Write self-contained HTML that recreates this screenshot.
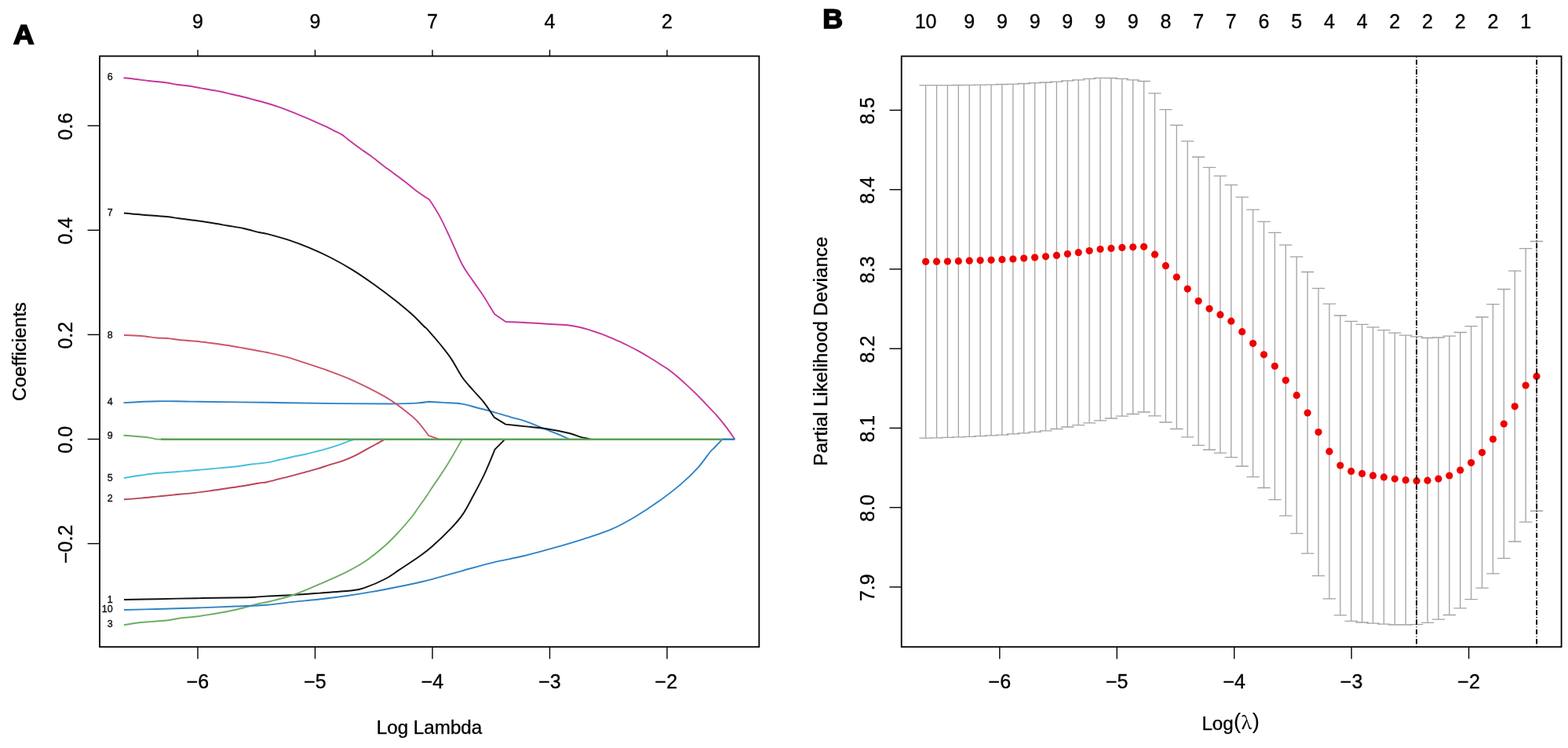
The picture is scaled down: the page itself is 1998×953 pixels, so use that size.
<!DOCTYPE html>
<html><head><meta charset="utf-8"><title>LASSO regression plots</title>
<style>
html,body{margin:0;padding:0;background:#fff;}
svg{display:block;}
text{font-family:'Liberation Sans', Arial, Helvetica, sans-serif;fill:#000;stroke:#000;stroke-width:0.35px;}
</style></head><body>
<svg width="1998" height="953" viewBox="0 0 1998 953">
<rect x="0" y="0" width="1998" height="953" fill="#fff"/>
<g id="panelA">
<path d="M158,764 C158.00,764.00 184.65,763.50 200,763.2 C215.35,762.90 234.25,762.48 250.1,762.2 C265.95,761.92 282.58,761.75 295.1,761.5 C307.62,761.25 317.72,761.02 325.2,760.7 C332.68,760.38 331.93,760.05 340,759.6 C348.07,759.15 362.40,758.67 373.6,758 C384.80,757.33 394.60,756.55 407.2,755.6 C419.80,754.65 439.42,753.50 449.2,752.3 C458.98,751.10 458.92,750.87 465.9,748.4 C472.88,745.93 484.10,741.13 491.1,737.5 C498.10,733.87 500.90,731.22 507.9,726.6 C514.90,721.98 526.08,714.77 533.1,709.8 C540.12,704.83 542.98,703.00 550,696.8 C557.02,690.60 568.57,679.55 575.2,672.6 C581.83,665.65 585.27,661.73 589.8,655.1 C594.33,648.47 597.87,641.22 602.4,632.8 C606.93,624.38 612.30,614.63 617,604.6 C621.70,594.57 630.60,572.60 630.6,572.6 C630.60,572.60 643.50,559.60 643.5,559.6" fill="none" stroke="#111111" stroke-width="1.9" stroke-linejoin="round" stroke-linecap="butt"/>
<path d="M158,636.3 C158.00,636.30 173.00,635.22 180,634.6 C187.00,633.98 193.32,633.27 200,632.6 C206.68,631.93 211.75,631.43 220.1,630.6 C228.45,629.77 241.77,628.53 250.1,627.6 C258.43,626.67 263.43,625.93 270.1,625 C276.77,624.07 283.42,623.00 290.1,622 C296.78,621.00 303.52,620.08 310.2,619 C316.88,617.92 325.23,616.30 330.2,615.5 C335.17,614.70 335.70,615.08 340,614.2 C344.30,613.32 350.67,611.53 356,610.2 C361.33,608.87 366.67,607.60 372,606.2 C377.33,604.80 382.67,603.27 388,601.8 C393.33,600.33 398.65,599.00 404,597.4 C409.35,595.80 414.75,593.87 420.1,592.2 C425.45,590.53 430.77,589.33 436.1,587.4 C441.43,585.47 446.77,583.20 452.1,580.6 C457.43,578.00 463.43,574.33 468.1,571.8 C472.77,569.27 476.37,567.43 480.1,565.4 C483.83,563.37 490.50,559.60 490.5,559.6" fill="none" stroke="#B8435A" stroke-width="1.9" stroke-linejoin="round" stroke-linecap="butt"/>
<path d="M158,796.3 C158.00,796.30 170.98,793.97 180,793 C189.02,792.03 203.75,791.42 212.1,790.5 C220.45,789.58 223.77,788.33 230.1,787.5 C236.43,786.67 243.43,786.33 250.1,785.5 C256.77,784.67 263.43,783.58 270.1,782.5 C276.77,781.42 283.42,780.33 290.1,779 C296.78,777.67 303.52,776.17 310.2,774.5 C316.88,772.83 324.40,770.42 330.2,769 C336.00,767.58 337.77,767.83 345,766 C352.23,764.17 363.23,761.63 373.6,758 C383.97,754.37 396.00,749.02 407.2,744.2 C418.40,739.38 431.02,734.00 440.8,729.1 C450.58,724.20 457.52,720.53 465.9,714.8 C474.28,709.07 484.10,700.85 491.1,694.7 C498.10,688.55 502.30,683.93 507.9,677.9 C513.50,671.87 520.50,663.68 524.7,658.5 C528.90,653.32 529.73,651.55 533.1,646.8 C536.47,642.05 542.08,634.12 544.9,630 C547.72,625.88 545.92,628.27 550,622.1 C554.08,615.93 562.93,603.42 569.4,593 C575.87,582.58 588.80,559.60 588.8,559.6" fill="none" stroke="#6DAE62" stroke-width="1.9" stroke-linejoin="round" stroke-linecap="butt"/>
<path d="M157.5,513.1 C157.50,513.10 185.90,511.45 200.4,511.2 C214.90,510.95 221.23,511.33 244.5,511.6 C267.77,511.87 308.78,512.38 340,512.8 C371.22,513.22 405.57,513.82 431.8,514.1 C458.03,514.38 481.00,514.58 497.4,514.5 C513.80,514.42 522.02,514.05 530.2,513.6 C538.38,513.15 546.50,511.80 546.5,511.8 C546.50,511.80 557.53,512.43 564.6,512.9 C571.67,513.37 581.68,513.50 588.9,514.6 C596.12,515.70 601.85,517.97 607.9,519.5 C613.95,521.03 617.98,521.78 625.2,523.8 C632.42,525.82 643.73,529.43 651.2,531.6 C658.67,533.77 662.53,534.20 670,536.8 C677.47,539.40 687.33,543.67 696,547.2 C704.67,550.73 717.33,555.93 722,558 C726.67,560.07 724.00,559.60 724,559.6" fill="none" stroke="#2F82C4" stroke-width="1.9" stroke-linejoin="round" stroke-linecap="butt"/>
<path d="M158,609 C158.00,609.00 173.50,606.45 180,605.5 C186.50,604.55 190.32,603.97 197,603.3 C203.68,602.63 211.25,602.22 220.1,601.5 C228.95,600.78 241.77,599.72 250.1,599 C258.43,598.28 261.75,597.95 270.1,597.2 C278.45,596.45 291.85,595.45 300.2,594.5 C308.55,593.55 313.57,592.35 320.2,591.5 C326.83,590.65 334.03,590.35 340,589.4 C345.97,588.45 350.67,587.00 356,585.8 C361.33,584.60 366.67,583.33 372,582.2 C377.33,581.07 382.67,580.20 388,579 C393.33,577.80 398.65,576.40 404,575 C409.35,573.60 414.75,572.20 420.1,570.6 C425.45,569.00 432.10,566.80 436.1,565.4 C440.10,564.00 441.43,563.17 444.1,562.2 C446.77,561.23 452.10,559.60 452.1,559.6" fill="none" stroke="#45BEDD" stroke-width="1.9" stroke-linejoin="round" stroke-linecap="butt"/>
<path d="M157.5,99.3 C157.50,99.30 164.58,99.88 170,100.5 C175.42,101.12 182.82,102.17 190,103 C197.18,103.83 207.25,104.70 213.1,105.5 C218.95,106.30 220.60,107.13 225.1,107.8 C229.60,108.47 234.27,108.63 240.1,109.5 C245.93,110.37 253.43,111.83 260.1,113 C266.77,114.17 274.27,115.33 280.1,116.5 C285.93,117.67 290.08,118.83 295.1,120 C300.12,121.17 305.18,122.25 310.2,123.5 C315.22,124.75 320.20,126.17 325.2,127.5 C330.20,128.83 335.28,130.05 340.2,131.5 C345.12,132.95 349.83,134.50 354.7,136.2 C359.57,137.90 364.50,139.80 369.4,141.7 C374.30,143.60 379.20,145.58 384.1,147.6 C389.00,149.62 393.90,151.67 398.8,153.8 C403.70,155.93 409.10,158.32 413.5,160.4 C417.90,162.48 421.53,164.47 425.2,166.3 C428.87,168.13 432.55,169.57 435.5,171.4 C438.45,173.23 439.22,174.48 442.9,177.3 C446.58,180.12 452.70,184.75 457.6,188.3 C462.50,191.85 467.40,195.00 472.3,198.6 C477.20,202.20 482.12,206.22 487,209.9 C491.88,213.58 496.72,217.07 501.6,220.7 C506.48,224.33 511.40,227.92 516.3,231.7 C521.20,235.48 525.88,239.63 531,243.4 C536.12,247.17 547.00,254.30 547,254.3 C547.00,254.30 555.42,266.65 559.9,274.9 C564.38,283.15 569.08,293.50 573.9,303.8 C578.72,314.10 584.15,327.90 588.8,336.7 C593.45,345.50 597.32,349.97 601.8,356.6 C606.28,363.23 612.02,370.93 615.7,376.5 C619.38,382.07 621.48,386.05 623.9,390 C626.32,393.95 630.20,400.20 630.2,400.2 C630.20,400.20 644.50,410.00 644.5,410 C644.50,410.00 661.50,410.62 669.1,411 C676.70,411.38 683.10,411.88 690.1,412.3 C697.10,412.72 705.27,413.13 711.1,413.5 C716.93,413.87 720.43,413.92 725.1,414.5 C729.77,415.08 735.02,416.12 739.1,417 C743.18,417.88 746.12,418.75 749.6,419.8 C753.08,420.85 756.70,422.15 760,423.3 C763.30,424.45 765.38,425.10 769.4,426.7 C773.42,428.30 779.22,430.77 784.1,432.9 C788.98,435.03 793.82,437.12 798.7,439.5 C803.58,441.88 808.50,444.50 813.4,447.2 C818.30,449.90 823.20,452.73 828.1,455.7 C833.00,458.67 838.80,462.43 842.8,465 C846.80,467.57 848.55,468.47 852.1,471.1 C855.65,473.73 860.08,477.38 864.1,480.8 C868.12,484.22 872.17,487.88 876.2,491.6 C880.23,495.32 884.28,499.08 888.3,503.1 C892.32,507.12 896.28,511.48 900.3,515.7 C904.32,519.92 908.38,523.87 912.4,528.4 C916.42,532.93 920.42,537.68 924.4,542.9 C928.38,548.12 936.30,559.70 936.3,559.7" fill="none" stroke="#C6369C" stroke-width="1.9" stroke-linejoin="round" stroke-linecap="butt"/>
<path d="M158,271.5 C158.00,271.50 170.98,272.75 180,273.5 C189.02,274.25 204.08,275.20 212.1,276 C220.12,276.80 221.77,277.47 228.1,278.3 C234.43,279.13 243.10,280.05 250.1,281 C257.10,281.95 263.43,282.92 270.1,284 C276.77,285.08 283.42,286.33 290.1,287.5 C296.78,288.67 303.52,289.58 310.2,291 C316.88,292.42 325.23,294.87 330.2,296 C335.17,297.13 333.82,296.18 340,297.8 C346.18,299.42 358.20,302.68 367.3,305.7 C376.40,308.72 385.50,312.10 394.6,315.9 C403.70,319.70 412.82,323.83 421.9,328.5 C430.98,333.17 440.02,338.27 449.1,343.9 C458.18,349.53 467.30,355.82 476.4,362.3 C485.50,368.78 495.73,376.55 503.7,382.8 C511.67,389.05 518.15,394.35 524.2,399.8 C530.25,405.25 536.43,412.00 540,415.5 C543.57,419.00 542.07,416.88 545.6,420.8 C549.13,424.72 556.30,432.95 561.2,439 C566.10,445.05 570.38,450.18 575,457.1 C579.62,464.02 584.28,473.85 588.9,480.5 C593.52,487.15 598.08,491.65 602.7,497 C607.32,502.35 612.12,506.83 616.6,512.6 C621.08,518.37 629.60,531.60 629.6,531.6 C629.60,531.60 644.30,540.60 644.3,540.6 C644.30,540.60 661.38,542.45 670,543.4 C678.62,544.35 686.77,544.87 696,546.3 C705.23,547.73 718.18,550.27 725.4,552 C732.62,553.73 734.68,555.43 739.3,556.7 C743.92,557.97 753.10,559.60 753.1,559.6" fill="none" stroke="#111111" stroke-width="1.9" stroke-linejoin="round" stroke-linecap="butt"/>
<path d="M158,427 C158.00,427.00 173.00,427.42 180,428 C187.00,428.58 194.48,430.00 200,430.5 C205.52,431.00 208.08,430.55 213.1,431 C218.12,431.45 223.93,432.57 230.1,433.2 C236.27,433.83 243.43,434.13 250.1,434.8 C256.77,435.47 263.43,436.33 270.1,437.2 C276.77,438.07 283.42,438.95 290.1,440 C296.78,441.05 303.52,442.30 310.2,443.5 C316.88,444.70 325.23,446.28 330.2,447.2 C335.17,448.12 334.00,447.68 340,449 C346.00,450.32 357.45,452.67 366.2,455.1 C374.95,457.53 383.75,460.70 392.5,463.6 C401.25,466.50 409.97,469.33 418.7,472.5 C427.43,475.67 436.15,478.83 444.9,482.6 C453.65,486.37 463.53,491.27 471.2,495.1 C478.87,498.93 485.43,502.43 490.9,505.6 C496.37,508.77 499.63,511.03 504,514.1 C508.37,517.17 512.52,520.28 517.1,524 C521.68,527.72 526.68,531.27 531.5,536.4 C536.32,541.53 546.00,554.80 546,554.8 C546.00,554.80 559.50,559.60 559.5,559.6" fill="none" stroke="#CC5468" stroke-width="1.9" stroke-linejoin="round" stroke-linecap="butt"/>
<path d="M157.5,554.8 C157.50,554.80 169.53,555.53 175,556 C180.47,556.47 186.30,557.00 190.3,557.6 C194.30,558.20 199.00,559.60 199,559.6 C199.00,559.60 212.00,559.70 212,559.7" fill="none" stroke="#6DAE62" stroke-width="1.9" stroke-linejoin="round" stroke-linecap="butt"/>
<path d="M158,777 C158.00,777.00 184.65,776.42 200,776 C215.35,775.58 233.40,775.08 250.1,774.5 C266.80,773.92 285.22,773.13 300.2,772.5 C315.18,771.87 327.77,771.63 340,770.7 C352.23,769.77 362.40,768.10 373.6,766.9 C384.80,765.70 396.00,764.77 407.2,763.5 C418.40,762.23 429.62,760.90 440.8,759.3 C451.98,757.70 463.12,755.87 474.3,753.9 C485.48,751.93 498.10,749.45 507.9,747.5 C517.70,745.55 526.08,743.75 533.1,742.2 C540.12,740.65 540.72,740.68 550,738.2 C559.28,735.72 575.87,730.87 588.8,727.3 C601.73,723.73 614.65,719.93 627.6,716.8 C640.55,713.67 653.55,711.60 666.5,708.5 C679.45,705.40 692.37,701.85 705.3,698.2 C718.23,694.55 731.75,690.60 744.1,686.6 C756.45,682.60 768.62,678.85 779.4,674.2 C790.18,669.55 799.00,664.47 808.8,658.7 C818.60,652.93 828.40,646.57 838.2,639.6 C848.00,632.63 859.03,624.23 867.6,616.9 C876.17,609.57 883.48,602.33 889.6,595.6 C895.72,588.87 901.12,580.43 904.3,576.5 C907.48,572.57 908.70,572.00 908.7,572 C908.70,572.00 920.50,559.60 920.5,559.6 C920.50,559.60 936.30,559.60 936.3,559.6" fill="none" stroke="#2F82C4" stroke-width="1.9" stroke-linejoin="round" stroke-linecap="butt"/>
<path d="M205,559.7 H921" fill="none" stroke="#5FA159" stroke-width="2.4"/>
<path d="M921,559.7 H936.3" fill="none" stroke="#2F7FB8" stroke-width="2.2"/>
<text x="143.6" y="102.1" font-size="12.5" text-anchor="end" style="fill:#222">6</text>
<text x="143.6" y="274.9" font-size="12.5" text-anchor="end" style="fill:#222">7</text>
<text x="143.6" y="430.8" font-size="12.5" text-anchor="end" style="fill:#222">8</text>
<text x="143.6" y="516" font-size="12.5" text-anchor="end" style="fill:#222">4</text>
<text x="143.6" y="558.6" font-size="12.5" text-anchor="end" style="fill:#222">9</text>
<text x="143.6" y="612.9" font-size="12.5" text-anchor="end" style="fill:#222">5</text>
<text x="143.6" y="639.4" font-size="12.5" text-anchor="end" style="fill:#222">2</text>
<text x="143.6" y="767.6" font-size="12.5" text-anchor="end" style="fill:#222">1</text>
<text x="143.6" y="779.9" font-size="12.5" text-anchor="end" style="fill:#222">10</text>
<text x="143.6" y="798.7" font-size="12.5" text-anchor="end" style="fill:#222">3</text>
<rect x="127" y="71.5" width="840.3" height="752.7" fill="none" stroke="#000" stroke-width="1.8"/>
<line x1="252" y1="824.2" x2="252" y2="839.4" stroke="#000" stroke-width="1.4"/>
<text x="252" y="877.2" font-size="25.0" text-anchor="middle">−6</text>
<line x1="401.5" y1="824.2" x2="401.5" y2="839.4" stroke="#000" stroke-width="1.4"/>
<text x="401.5" y="877.2" font-size="25.0" text-anchor="middle">−5</text>
<line x1="551" y1="824.2" x2="551" y2="839.4" stroke="#000" stroke-width="1.4"/>
<text x="551" y="877.2" font-size="25.0" text-anchor="middle">−4</text>
<line x1="700.5" y1="824.2" x2="700.5" y2="839.4" stroke="#000" stroke-width="1.4"/>
<text x="700.5" y="877.2" font-size="25.0" text-anchor="middle">−3</text>
<line x1="850" y1="824.2" x2="850" y2="839.4" stroke="#000" stroke-width="1.4"/>
<text x="848.8" y="877.2" font-size="25.0" text-anchor="middle">−2</text>
<line x1="252" y1="71.5" x2="252" y2="63.4" stroke="#000" stroke-width="1.4"/>
<text x="252" y="36.3" font-size="25.0" text-anchor="middle">9</text>
<line x1="401.5" y1="71.5" x2="401.5" y2="63.4" stroke="#000" stroke-width="1.4"/>
<text x="401.5" y="36.3" font-size="25.0" text-anchor="middle">9</text>
<line x1="551" y1="71.5" x2="551" y2="63.4" stroke="#000" stroke-width="1.4"/>
<text x="551" y="36.3" font-size="25.0" text-anchor="middle">7</text>
<line x1="700.5" y1="71.5" x2="700.5" y2="63.4" stroke="#000" stroke-width="1.4"/>
<text x="700.5" y="36.3" font-size="25.0" text-anchor="middle">4</text>
<line x1="850" y1="71.5" x2="850" y2="63.4" stroke="#000" stroke-width="1.4"/>
<text x="850" y="36.3" font-size="25.0" text-anchor="middle">2</text>
<line x1="111.6" y1="160.2" x2="127" y2="160.2" stroke="#000" stroke-width="1.4"/>
<text transform="translate(91.6,161) rotate(-90)" x="0" y="0" font-size="25.0" text-anchor="middle">0.6</text>
<line x1="111.6" y1="293.3" x2="127" y2="293.3" stroke="#000" stroke-width="1.4"/>
<text transform="translate(91.6,294.1) rotate(-90)" x="0" y="0" font-size="25.0" text-anchor="middle">0.4</text>
<line x1="111.6" y1="426.4" x2="127" y2="426.4" stroke="#000" stroke-width="1.4"/>
<text transform="translate(91.6,427.2) rotate(-90)" x="0" y="0" font-size="25.0" text-anchor="middle">0.2</text>
<line x1="111.6" y1="559.5" x2="127" y2="559.5" stroke="#000" stroke-width="1.4"/>
<text transform="translate(91.6,560.3) rotate(-90)" x="0" y="0" font-size="25.0" text-anchor="middle">0.0</text>
<line x1="111.6" y1="692.6" x2="127" y2="692.6" stroke="#000" stroke-width="1.4"/>
<text transform="translate(91.6,693.4) rotate(-90)" x="0" y="0" font-size="25.0" text-anchor="middle">−0.2</text>
<text x="547" y="934.6" font-size="24.2" text-anchor="middle">Log Lambda</text>
<text transform="translate(32.7,448) rotate(-90)" font-size="24.2" text-anchor="middle">Coefficients</text>
<text transform="translate(30.3,55.8) scale(1.07,1)" font-size="34.3" font-weight="bold" text-anchor="middle" style="stroke-width:1.7px">A</text>
</g>
<g id="panelB">
<path d="M1179.6,108.6V558.1M1171.4,108.6H1187.8M1171.4,558.1H1187.8M1193.5,108.6V557.8M1185.3,108.6H1201.7M1185.3,557.8H1201.7M1207.4,108.6V557.3M1199.2,108.6H1215.6M1199.2,557.3H1215.6M1221.3,108.5V556.9M1213.1,108.5H1229.5M1213.1,556.9H1229.5M1235.2,108.4V556.4M1227,108.4H1243.4M1227,556.4H1243.4M1249.1,108.2V555.6M1240.9,108.2H1257.3M1240.9,555.6H1257.3M1263,107.8V554.9M1254.8,107.8H1271.2M1254.8,554.9H1271.2M1276.9,107.5V554.1M1268.7,107.5H1285.1M1268.7,554.1H1285.1M1290.8,107.1V552.9M1282.6,107.1H1299M1282.6,552.9H1299M1304.7,106.5V551.8M1296.5,106.5H1312.9M1296.5,551.8H1312.9M1318.6,105.7V550.4M1310.4,105.7H1326.8M1310.4,550.4H1326.8M1332.5,105V548.8M1324.3,105H1340.7M1324.3,548.8H1340.7M1346.4,104.1V546.5M1338.2,104.1H1354.6M1338.2,546.5H1354.6M1360.3,102.9V544M1352.1,102.9H1368.5M1352.1,544H1368.5M1374.2,101.8V541.6M1366,101.8H1382.4M1366,541.6H1382.4M1388.1,100.4V538.8M1379.9,100.4H1396.3M1379.9,538.8H1396.3M1402,99.3V535.9M1393.8,99.3H1410.2M1393.8,535.9H1410.2M1415.9,99.5V533M1407.7,99.5H1424.1M1407.7,533H1424.1M1429.8,100.4V530.2M1421.6,100.4H1438M1421.6,530.2H1438M1443.7,101.8V527.5M1435.5,101.8H1451.9M1435.5,527.5H1451.9M1457.6,103.5V525M1449.4,103.5H1465.8M1449.4,525H1465.8M1471.5,118.8V529.8M1463.3,118.8H1479.7M1463.3,529.8H1479.7M1485.4,139.7V538M1477.2,139.7H1493.6M1477.2,538H1493.6M1499.3,159.5V546.5M1491.1,159.5H1507.5M1491.1,546.5H1507.5M1513.2,179.8V556.8M1505,179.8H1521.4M1505,556.8H1521.4M1527.1,200V567.4M1518.9,200H1535.3M1518.9,567.4H1535.3M1541,213.4V573M1532.8,213.4H1549.2M1532.8,573H1549.2M1554.9,224.1V577.2M1546.7,224.1H1563.1M1546.7,577.2H1563.1M1568.8,235.7V582.7M1560.6,235.7H1577M1560.6,582.7H1577M1582.7,251.2V594M1574.5,251.2H1590.9M1574.5,594H1590.9M1596.6,267.2V607.6M1588.4,267.2H1604.8M1588.4,607.6H1604.8M1610.5,282.3V621.5M1602.3,282.3H1618.7M1602.3,621.5H1618.7M1624.4,296.3V636.6M1616.2,296.3H1632.6M1616.2,636.6H1632.6M1638.3,312.1V657.2M1630.1,312.1H1646.5M1630.1,657.2H1646.5M1652.2,327.2V679.6M1644,327.2H1660.4M1644,679.6H1660.4M1666.1,346.5V705.2M1657.9,346.5H1674.3M1657.9,705.2H1674.3M1680,367.3V733.6M1671.8,367.3H1688.2M1671.8,733.6H1688.2M1693.9,387.2V762.9M1685.7,387.2H1702.1M1685.7,762.9H1702.1M1707.8,402V783.9M1699.6,402H1716M1699.6,783.9H1716M1721.7,409.4V791.4M1713.5,409.4H1729.9M1713.5,791.4H1729.9M1735.6,413.4V793M1727.4,413.4H1743.8M1727.4,793H1743.8M1749.5,416.8V794.1M1741.3,416.8H1757.7M1741.3,794.1H1757.7M1763.4,420.6V795.2M1755.2,420.6H1771.6M1755.2,795.2H1771.6M1777.3,424.1V796M1769.1,424.1H1785.5M1769.1,796H1785.5M1791.2,427.2V796M1783,427.2H1799.4M1783,796H1799.4M1805.1,428.8V795.7M1796.9,428.8H1813.3M1796.9,795.7H1813.3M1819,430.5V793.3M1810.8,430.5H1827.2M1810.8,793.3H1827.2M1832.9,430V789.2M1824.7,430H1841.1M1824.7,789.2H1841.1M1846.8,428.2V783.5M1838.6,428.2H1855M1838.6,783.5H1855M1860.7,423.5V774.9M1852.5,423.5H1868.9M1852.5,774.9H1868.9M1874.6,415.7V763.7M1866.4,415.7H1882.8M1866.4,763.7H1882.8M1888.5,404V749.2M1880.3,404H1896.7M1880.3,749.2H1896.7M1902.4,387.6V730.9M1894.2,387.6H1910.6M1894.2,730.9H1910.6M1916.3,368.5V711.4M1908.1,368.5H1924.5M1908.1,711.4H1924.5M1930.2,345.1V690M1922,345.1H1938.4M1922,690H1938.4M1944.1,316.6V665.2M1935.9,316.6H1952.3M1935.9,665.2H1952.3M1958,307.5V651M1949.8,307.5H1966.2M1949.8,651H1966.2" fill="none" stroke="#A3A3A3" stroke-width="1.3"/>
<circle cx="1179.6" cy="333.3" r="4.6" fill="#F00000"/>
<circle cx="1193.5" cy="333.2" r="4.6" fill="#F00000"/>
<circle cx="1207.4" cy="333" r="4.6" fill="#F00000"/>
<circle cx="1221.3" cy="332.7" r="4.6" fill="#F00000"/>
<circle cx="1235.2" cy="332.2" r="4.6" fill="#F00000"/>
<circle cx="1249.1" cy="331.8" r="4.6" fill="#F00000"/>
<circle cx="1263" cy="331.3" r="4.6" fill="#F00000"/>
<circle cx="1276.9" cy="330.7" r="4.6" fill="#F00000"/>
<circle cx="1290.8" cy="330" r="4.6" fill="#F00000"/>
<circle cx="1304.7" cy="329" r="4.6" fill="#F00000"/>
<circle cx="1318.6" cy="328.1" r="4.6" fill="#F00000"/>
<circle cx="1332.5" cy="326.8" r="4.6" fill="#F00000"/>
<circle cx="1346.4" cy="325.4" r="4.6" fill="#F00000"/>
<circle cx="1360.3" cy="323.6" r="4.6" fill="#F00000"/>
<circle cx="1374.2" cy="321.7" r="4.6" fill="#F00000"/>
<circle cx="1388.1" cy="319.6" r="4.6" fill="#F00000"/>
<circle cx="1402" cy="317.5" r="4.6" fill="#F00000"/>
<circle cx="1415.9" cy="316.4" r="4.6" fill="#F00000"/>
<circle cx="1429.8" cy="315.4" r="4.6" fill="#F00000"/>
<circle cx="1443.7" cy="314.8" r="4.6" fill="#F00000"/>
<circle cx="1457.6" cy="314.3" r="4.6" fill="#F00000"/>
<circle cx="1471.5" cy="324.2" r="4.6" fill="#F00000"/>
<circle cx="1485.4" cy="338.7" r="4.6" fill="#F00000"/>
<circle cx="1499.3" cy="353" r="4.6" fill="#F00000"/>
<circle cx="1513.2" cy="368.1" r="4.6" fill="#F00000"/>
<circle cx="1527.1" cy="383.5" r="4.6" fill="#F00000"/>
<circle cx="1541" cy="393.3" r="4.6" fill="#F00000"/>
<circle cx="1554.9" cy="400.9" r="4.6" fill="#F00000"/>
<circle cx="1568.8" cy="409.2" r="4.6" fill="#F00000"/>
<circle cx="1582.7" cy="422.7" r="4.6" fill="#F00000"/>
<circle cx="1596.6" cy="437.6" r="4.6" fill="#F00000"/>
<circle cx="1610.5" cy="451.8" r="4.6" fill="#F00000"/>
<circle cx="1624.4" cy="466.5" r="4.6" fill="#F00000"/>
<circle cx="1638.3" cy="484.6" r="4.6" fill="#F00000"/>
<circle cx="1652.2" cy="503.7" r="4.6" fill="#F00000"/>
<circle cx="1666.1" cy="526.1" r="4.6" fill="#F00000"/>
<circle cx="1680" cy="550.6" r="4.6" fill="#F00000"/>
<circle cx="1693.9" cy="575.2" r="4.6" fill="#F00000"/>
<circle cx="1707.8" cy="593" r="4.6" fill="#F00000"/>
<circle cx="1721.7" cy="600.4" r="4.6" fill="#F00000"/>
<circle cx="1735.6" cy="603.4" r="4.6" fill="#F00000"/>
<circle cx="1749.5" cy="605.9" r="4.6" fill="#F00000"/>
<circle cx="1763.4" cy="607.9" r="4.6" fill="#F00000"/>
<circle cx="1777.3" cy="610" r="4.6" fill="#F00000"/>
<circle cx="1791.2" cy="611.7" r="4.6" fill="#F00000"/>
<circle cx="1805.1" cy="612.7" r="4.6" fill="#F00000"/>
<circle cx="1819" cy="612.2" r="4.6" fill="#F00000"/>
<circle cx="1832.9" cy="610.1" r="4.6" fill="#F00000"/>
<circle cx="1846.8" cy="606" r="4.6" fill="#F00000"/>
<circle cx="1860.7" cy="599.1" r="4.6" fill="#F00000"/>
<circle cx="1874.6" cy="589.6" r="4.6" fill="#F00000"/>
<circle cx="1888.5" cy="576.6" r="4.6" fill="#F00000"/>
<circle cx="1902.4" cy="559.5" r="4.6" fill="#F00000"/>
<circle cx="1916.3" cy="540.1" r="4.6" fill="#F00000"/>
<circle cx="1930.2" cy="517.8" r="4.6" fill="#F00000"/>
<circle cx="1944.1" cy="491" r="4.6" fill="#F00000"/>
<circle cx="1958" cy="479.4" r="4.6" fill="#F00000"/>
<line x1="1805.0" y1="71.6" x2="1805.0" y2="824.2" stroke="#000" stroke-width="1.9" stroke-dasharray="6.6 2.4 0.9 2.4" stroke-dashoffset="7.9"/>
<line x1="1958.1" y1="71.6" x2="1958.1" y2="824.2" stroke="#000" stroke-width="1.9" stroke-dasharray="6.6 2.4 0.9 2.4" stroke-dashoffset="7.9"/>
<rect x="1148.7" y="71.6" width="840.9" height="752.6" fill="none" stroke="#000" stroke-width="1.8"/>
<line x1="1273.8" y1="824.2" x2="1273.8" y2="839.4" stroke="#000" stroke-width="1.4"/>
<text x="1273.8" y="877.2" font-size="25.0" text-anchor="middle">−6</text>
<line x1="1423.2" y1="824.2" x2="1423.2" y2="839.4" stroke="#000" stroke-width="1.4"/>
<text x="1423.2" y="877.2" font-size="25.0" text-anchor="middle">−5</text>
<line x1="1572.7" y1="824.2" x2="1572.7" y2="839.4" stroke="#000" stroke-width="1.4"/>
<text x="1572.7" y="877.2" font-size="25.0" text-anchor="middle">−4</text>
<line x1="1722.1" y1="824.2" x2="1722.1" y2="839.4" stroke="#000" stroke-width="1.4"/>
<text x="1722.1" y="877.2" font-size="25.0" text-anchor="middle">−3</text>
<line x1="1871.6" y1="824.2" x2="1871.6" y2="839.4" stroke="#000" stroke-width="1.4"/>
<text x="1871.6" y="877.2" font-size="25.0" text-anchor="middle">−2</text>
<text x="1179.6" y="36.3" font-size="25.0" text-anchor="middle">10</text>
<text x="1235.2" y="36.3" font-size="25.0" text-anchor="middle">9</text>
<text x="1276.9" y="36.3" font-size="25.0" text-anchor="middle">9</text>
<text x="1318.6" y="36.3" font-size="25.0" text-anchor="middle">9</text>
<text x="1360.3" y="36.3" font-size="25.0" text-anchor="middle">9</text>
<text x="1402" y="36.3" font-size="25.0" text-anchor="middle">9</text>
<text x="1443.7" y="36.3" font-size="25.0" text-anchor="middle">9</text>
<text x="1485.4" y="36.3" font-size="25.0" text-anchor="middle">8</text>
<text x="1527.1" y="36.3" font-size="25.0" text-anchor="middle">7</text>
<text x="1568.8" y="36.3" font-size="25.0" text-anchor="middle">7</text>
<text x="1610.5" y="36.3" font-size="25.0" text-anchor="middle">6</text>
<text x="1652.2" y="36.3" font-size="25.0" text-anchor="middle">5</text>
<text x="1693.9" y="36.3" font-size="25.0" text-anchor="middle">4</text>
<text x="1735.6" y="36.3" font-size="25.0" text-anchor="middle">4</text>
<text x="1777.3" y="36.3" font-size="25.0" text-anchor="middle">2</text>
<text x="1819" y="36.3" font-size="25.0" text-anchor="middle">2</text>
<text x="1860.7" y="36.3" font-size="25.0" text-anchor="middle">2</text>
<text x="1902.4" y="36.3" font-size="25.0" text-anchor="middle">2</text>
<text x="1944.1" y="36.3" font-size="25.0" text-anchor="middle">1</text>
<line x1="1133.4" y1="140.4" x2="1148.7" y2="140.4" stroke="#000" stroke-width="1.4"/>
<text transform="translate(1113.9,141.2) rotate(-90)" font-size="25.0" text-anchor="middle">8.5</text>
<line x1="1133.4" y1="241.6" x2="1148.7" y2="241.6" stroke="#000" stroke-width="1.4"/>
<text transform="translate(1113.9,242.4) rotate(-90)" font-size="25.0" text-anchor="middle">8.4</text>
<line x1="1133.4" y1="342.9" x2="1148.7" y2="342.9" stroke="#000" stroke-width="1.4"/>
<text transform="translate(1113.9,343.7) rotate(-90)" font-size="25.0" text-anchor="middle">8.3</text>
<line x1="1133.4" y1="444.2" x2="1148.7" y2="444.2" stroke="#000" stroke-width="1.4"/>
<text transform="translate(1113.9,445) rotate(-90)" font-size="25.0" text-anchor="middle">8.2</text>
<line x1="1133.4" y1="545.4" x2="1148.7" y2="545.4" stroke="#000" stroke-width="1.4"/>
<text transform="translate(1113.9,546.2) rotate(-90)" font-size="25.0" text-anchor="middle">8.1</text>
<line x1="1133.4" y1="646.6" x2="1148.7" y2="646.6" stroke="#000" stroke-width="1.4"/>
<text transform="translate(1113.9,647.4) rotate(-90)" font-size="25.0" text-anchor="middle">8.0</text>
<line x1="1133.4" y1="747.9" x2="1148.7" y2="747.9" stroke="#000" stroke-width="1.4"/>
<text transform="translate(1113.9,748.7) rotate(-90)" font-size="25.0" text-anchor="middle">7.9</text>
<text x="1531.4" y="929.6" font-size="24.2">Log</text>
<text x="1572.0" y="928.3" font-size="27.5" style="stroke-width:0.1px">(</text>
<text x="1582.0" y="929.4" font-size="22.3" style="font-family:'Noto Serif CJK SC','Liberation Serif',serif">λ</text>
<text x="1595.8" y="928.3" font-size="27.5" style="stroke-width:0.1px">)</text>
<text transform="translate(1053.6,447.5) rotate(-90)" font-size="24.2" text-anchor="middle">Partial Likelihood Deviance</text>
<text transform="translate(1061.2,35.8) scale(1.04,1)" font-size="34.3" font-weight="bold" text-anchor="middle" style="stroke-width:1.7px">B</text>
</g>
</svg>
</body></html>
